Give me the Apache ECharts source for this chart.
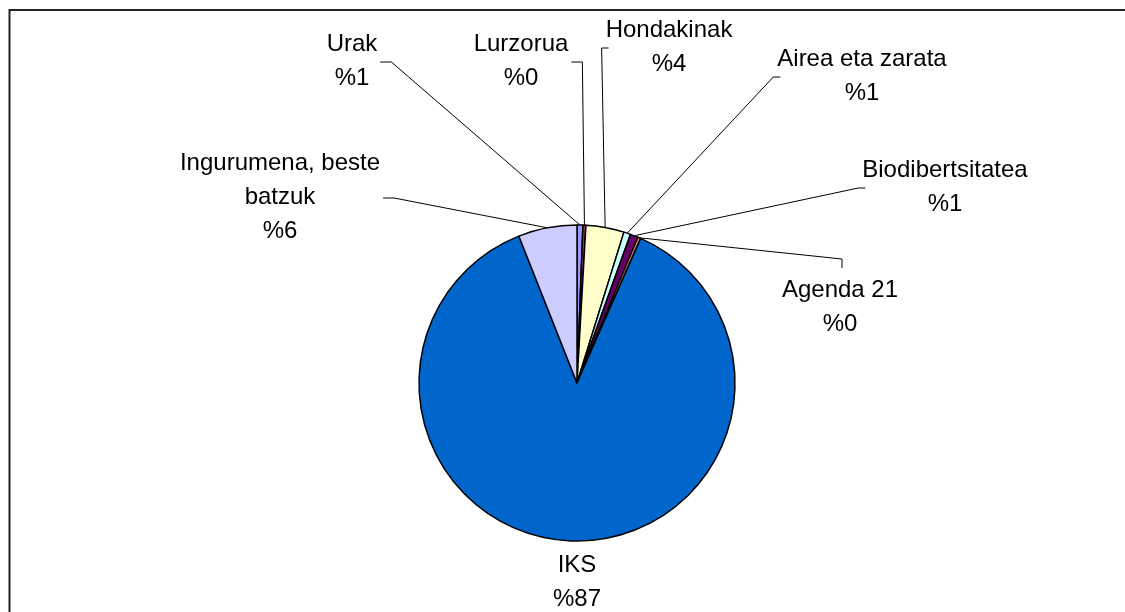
<!DOCTYPE html>
<html>
<head>
<meta charset="utf-8">
<style>
    html, body { margin: 0; padding: 0; background: #fff; }
    #pieChart { width: 1125px; height: 612px; }
</style>
<script src="https://cdn.jsdelivr.net/npm/echarts@6/dist/echarts.min.js"></script>
</head>
<body>
<div id="pieChart"></div>
<script>
    // kategoriak eta balioak (%)
    var names = ['Urak', 'Lurzorua', 'Hondakinak', 'Airea eta zarata', 'Biodibertsitatea', 'Agenda 21', 'IKS', 'Ingurumena, beste batzuk'];
    var values = [0.6, 0.3, 3.9, 0.7, 0.8, 0.3, 87.4, 6.0];
    var colors = ['#9999FF', '#993366', '#FFFFCC', '#CCFFFF', '#660066', '#FF8080', '#0066CC', '#CCCCFF'];

    // etiketen kokapena: [x, y, lerroa zein aldetatik]
    var labelSpots = [
        [352, 61, 'right'],
        [521, 61, 'right'],
        [669, 47, 'left'],
        [862, 76, 'left'],
        [945, 187, 'left'],
        [840, 307, 'top'],
        [577, 582, 'none'],
        [280, 197, 'right']
    ];

    var seriesData = [];
    for (var i = 0; i < names.length; i++) {
        var item = { name: names[i], value: values[i], itemStyle: { color: colors[i] } };
        if (labelSpots[i][2] == 'none') {
            item.labelLine = { show: false };
        }
        seriesData.push(item);
    }

    var chart = echarts.init(document.getElementById('pieChart'));
    var option = {
        animation: false,
        backgroundColor: '#fff',
        graphic: [{
            type: 'rect',
            shape: { x: 9.5, y: 10, width: 1300, height: 800 },
            style: { fill: 'none', stroke: '#222', lineWidth: 2 },
            silent: true
        }],
        series: [{
            type: 'pie',
            center: [577, 383],
            radius: 158,
            startAngle: 90,
            clockwise: true,
            avoidLabelOverlap: false,
            itemStyle: { borderColor: '#000', borderWidth: 1.5 },
            label: {
                show: true,
                position: 'outside',
                fontFamily: 'Liberation Sans, Arial, sans-serif',
                fontSize: 24,
                lineHeight: 34,
                color: '#000',
                align: 'center',
                formatter: function (p) {
                    return p.name.replace(', beste ', ', beste\n') + '\n%' + Math.round(p.value);
                }
            },
            labelLine: { show: true, lineStyle: { color: '#000', width: 1 } },
            labelLayout: function (p) {
                var spot = labelSpots[p.dataIndex];
                var x = spot[0], y = spot[1];
                var w = p.labelRect.width, h = p.labelRect.height;
                var res = { x: x, y: y, align: 'center', verticalAlign: 'middle' };
                var pts = p.labelLinePoints;
                if (pts && spot[2] != 'none') {
                    var start = pts[0];
                    if (spot[2] == 'right') {
                        res.labelLinePoints = [start, [x + w / 2 + 14, y + 1], [x + w / 2 + 3, y + 1]];
                    } else if (spot[2] == 'left') {
                        res.labelLinePoints = [start, [x - w / 2 - 4, y + 1], [x - w / 2 + 3, y + 1]];
                    } else {
                        res.labelLinePoints = [start, [x + 2, y - h / 2 - 14], [x + 2, y - h / 2 - 5]];
                    }
                }
                return res;
            },
            data: seriesData
        }]
    };
    chart.setOption(option);
</script>
</body>
</html>
